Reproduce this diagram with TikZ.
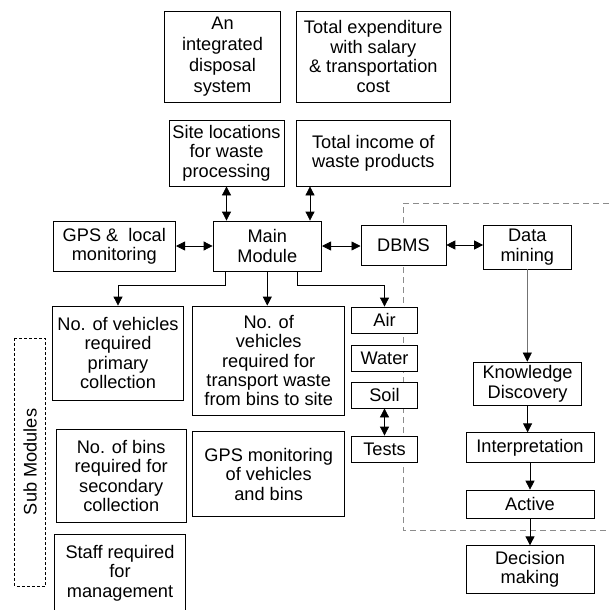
\documentclass[tikz,border=0pt]{standalone}
\usepackage{fontspec}
\setmainfont{Liberation Sans}
\usetikzlibrary{arrows.meta}

\begin{document}
\begin{tikzpicture}[x=1pt,y=-1pt,
  box/.style={draw,line width=0.8pt,fill=white,align=center,inner sep=0pt,
    font=\fontsize{18.2}{19.4}\selectfont},
  arr/.style={line width=0.8pt,-{Triangle[length=9pt,width=9pt]}},
  dbl/.style={line width=0.8pt,{Triangle[length=9pt,width=9pt]}-{Triangle[length=9pt,width=9pt]}}]
\useasboundingbox (0,0) rectangle (609,610);
% data mining region
\draw[black!45,line width=0.8pt,dash pattern=on 6pt off 4pt] (609,203) -- (403,203) -- (403,530) -- (609,530);
% top row
\node[box,minimum width=116,minimum height=91,font=\fontsize{18.2}{21}\selectfont] (integ) at (222.5,56.5) {An\\integrated\\disposal\\system};
\node[box,minimum width=154.5,minimum height=91] (expend) at (373.3,56.5) {Total expenditure\\with salary\\\& transportation\\cost};
\node[box,minimum width=115,minimum height=66] (site) at (226.5,153) {Site locations\\for waste\\processing};
\node[box,minimum width=154.5,minimum height=66] (income) at (373.3,153) {Total income of\\waste products};
% middle row
\node[box,minimum width=122.6,minimum height=50] (gps) at (114.3,246) {GPS \& \ local\\monitoring};
\node[box,minimum width=108.6,minimum height=50] (main) at (267.3,246) {Main\\Module};
\node[box,minimum width=85,minimum height=40] (dbms) at (403.4,245) {DBMS};
\node[box,minimum width=87.5,minimum height=44] (mining) at (527.3,247) {Data\\mining};
% sub modules
\node[box,minimum width=130.5,minimum height=94] (prim) at (118,353) {No. of vehicles\\required\\primary\\collection};
\node[box,minimum width=152.3,minimum height=109] (trans) at (268.7,360.5) {No. of\\vehicles\\required for\\transport waste\\from bins to site};
\foreach \name/\txt/\y in {air/Air/320, water/Water/358.5, soil/Soil/395, tests/Tests/449}
  \node[box,minimum width=65.5,minimum height=26] (\name) at (384.5,\y) {\txt};
\node[box,minimum width=130.4,minimum height=93.7] (bins) at (121.2,475.8) {No. of bins\\required for\\secondary\\collection};
\node[box,minimum width=152.3,minimum height=85] (gpsmon) at (268.7,474.2) {GPS monitoring\\of vehicles\\and bins};
\node[box,minimum width=131.3,minimum height=78] (staff) at (120,573) {Staff required\\for\\management};
\node[draw,densely dashed,line width=0.7pt,rotate=90,minimum width=248,minimum height=30.6,inner sep=0pt,
  font=\fontsize{18.2}{19.4}\selectfont] (sub) at (30.1,461.9) {Sub Modules};
% mining chain
\node[box,minimum width=107.6,minimum height=43.7] (know) at (527.6,383.9) {Knowledge\\Discovery};
\node[box,minimum width=128,minimum height=29.3] (interp) at (530,447.4) {Interpretation};
\node[box,minimum width=128,minimum height=28.7] (active) at (530,504.4) {Active};
\node[box,minimum width=128,minimum height=47.3] (decide) at (530,569.4) {Decision\\making};
% connectors
\draw[dbl] (site.south) -- (site.south |- main.north);
\draw[dbl] ([xshift=-12pt]main.north east) -- ([xshift=-12pt]main.north east |- income.south);
\draw[dbl] (gps.east) -- (main.west);
\draw[dbl] (main.east) -- (main.east -| dbms.west);
\draw[dbl] (dbms.east) -- (dbms.east -| mining.west);
\draw[arr] ([xshift=-42pt]main.south) -- ++(0,14) -| (prim.north);
\draw[arr] (main.south) -- (main.south |- trans.north);
\draw[arr] ([xshift=30pt]main.south) -- ++(0,14) -| (air.north);
\draw[dbl] (soil.south) -- (tests.north);
\draw[black!55,line width=0.6pt,-{Triangle[length=9pt,width=9pt,color=black]}] (mining.south) -- (mining.south |- know.north);
\foreach \a/\b in {know/interp, interp/active, active/decide}
  \draw[arr] (\a.south) -- (\a.south |- \b.north);
\end{tikzpicture}
\end{document}
